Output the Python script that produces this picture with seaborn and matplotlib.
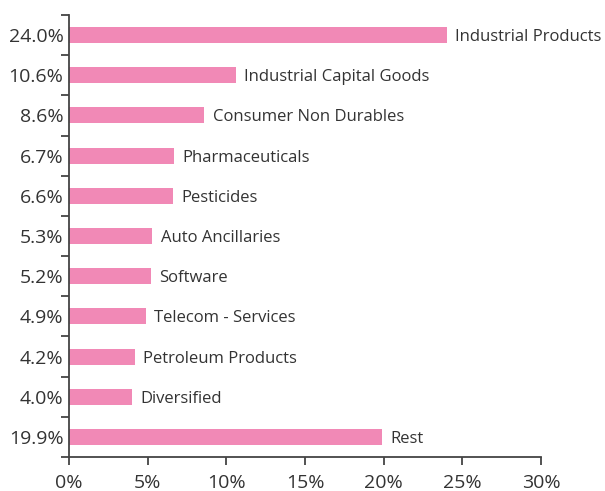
import matplotlib
matplotlib.use("Agg")
import matplotlib.pyplot as plt
import seaborn as sns
import pandas as pd
import numpy as np
from matplotlib.ticker import FixedLocator, FuncFormatter

categories = ["Industrial Products", "Industrial Capital Goods", "Consumer Non Durables",
              "Pharmaceuticals", "Pesticides", "Auto Ancillaries", "Software",
              "Telecom - Services", "Petroleum Products", "Diversified", "Rest"]
values = [24.0, 10.6, 8.6, 6.7, 6.6, 5.3, 5.2, 4.9, 4.2, 4.0, 19.9]
xticks = [0, 5, 10, 15, 20, 25, 30]

df = pd.DataFrame({"cat": categories, "val": values})

sns.set_style("white")
plt.rcParams['font.family'] = ['Open Sans', 'DejaVu Sans']

fig = plt.figure(figsize=(6.05, 4.91), dpi=100)
ax = fig.add_axes([69/605, 1-457/491, (541-69)/605, (457-15)/491])

color = "#F189B6"
sns.barplot(data=df, x="val", y="cat", orient="h", color=color, width=0.4,
            saturation=1, linewidth=0, ax=ax)

ax.set_xlim(0, 30)
ax.set_ylim(len(categories)-0.5, -0.5)
ax.set_xlabel("")
ax.set_ylabel("")

txt = "#333333"
for i, (c, v) in enumerate(zip(categories, values)):
    ax.annotate(c, xy=(v, i), xytext=(6, 0), textcoords="offset points",
                va="center_baseline", ha="left", fontsize=12, color=txt)

ax.set_xticks(xticks)
ax.xaxis.set_major_formatter(FuncFormatter(lambda x, p: f"{int(x)}%"))
ax.tick_params(axis="x", length=6, width=1.3, color="#444444", labelsize=14,
               labelcolor=txt, direction="out", bottom=True, pad=6)

ax.yaxis.set_major_locator(FixedLocator(np.arange(-0.5, len(categories), 1.0)))
ax.yaxis.set_minor_locator(FixedLocator(np.arange(len(categories))))
ax.yaxis.set_major_formatter(FuncFormatter(lambda y, p: ""))
ax.set_yticklabels([f"{v:.1f}%" for v in values], minor=True)
ax.tick_params(axis="y", which="major", length=6, width=1.3, color="#444444",
               direction="out", left=True)
ax.tick_params(axis="y", which="minor", length=0, labelsize=14, labelcolor=txt, pad=4)

for s in ["top", "right"]:
    ax.spines[s].set_visible(False)
for s in ["left", "bottom"]:
    ax.spines[s].set_color("#444444")
    ax.spines[s].set_linewidth(1.3)

fig.savefig("out.png", dpi=100)
